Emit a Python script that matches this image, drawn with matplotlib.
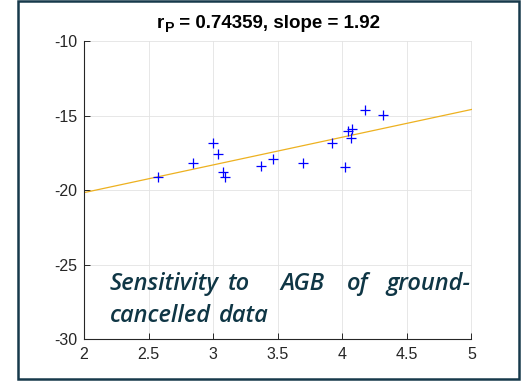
import matplotlib
matplotlib.use("Agg")
import matplotlib.pyplot as plt
import numpy as np
from matplotlib.patches import Rectangle

# ---- data ----
agb_sens_x = [2.572, 2.846, 3.001, 3.039, 3.076, 3.091, 3.370, 3.461, 3.693,
              3.922, 4.021, 4.046, 4.064, 4.072, 4.175, 4.317]
agb_sens_y = [-19.12, -18.16, -16.86, -17.58, -18.80, -19.10, -18.38, -17.87, -18.16,
              -16.86, -18.45, -16.03, -16.52, -15.90, -14.62, -14.95]
fit_slope = 1.863
fit_intercept = -23.89
fit_x = [2.0, 5.0]
x_ticks = [2, 2.5, 3, 3.5, 4, 4.5, 5]
x_tick_labels = ["2", "2.5", "3", "3.5", "4", "4.5", "5"]
y_ticks = [-30, -25, -20, -15, -10]
y_tick_labels = ["-30", "-25", "-20", "-15", "-10"]
title_main = "r"
title_sub = "P"
title_rest = " = 0.74359, slope = 1.92"
note_line1 = ["Sensitivity", "to", "AGB", "of", "ground-"]
note_line2 = ["cancelled", "data"]

plt.rcParams["font.family"] = ["Liberation Sans", "DejaVu Sans"]
plt.rcParams["axes.unicode_minus"] = False

W, H = 528, 382
fig = plt.figure(figsize=(W / 100, H / 100), dpi=100)
fig.patch.set_facecolor("white")

left_px, right_px, top_px, bot_px = 84, 471.5, 41.4, 339
ax = fig.add_axes([left_px / W, 1 - bot_px / H, (right_px - left_px) / W, (bot_px - top_px) / H])

ax.set_xlim(2, 5)
ax.set_ylim(-30, -10)
ax.grid(True, color="#e3e3e3", linewidth=0.6)
ax.set_axisbelow(True)

fx = np.array(fit_x)
ax.plot(fx, fit_slope * fx + fit_intercept, color="#EDB120", linewidth=0.9, zorder=2)
ax.plot(agb_sens_x, agb_sens_y, linestyle="none", marker="+", color="#0000FF",
        markersize=6.5, markeredgewidth=0.9, zorder=3)

for s in ["top", "right"]:
    ax.spines[s].set_visible(False)
for s in ["left", "bottom"]:
    ax.spines[s].set_color("#262626")
    ax.spines[s].set_linewidth(0.8)

ax.set_xticks(x_ticks)
ax.set_xticklabels(x_tick_labels)
ax.set_yticks(y_ticks)
ax.set_yticklabels(y_tick_labels)
ax.tick_params(direction="in", length=4, width=0.7, color="#262626",
               labelsize=11.5, labelcolor="#262626")
ax.tick_params(axis="x", pad=6)
ax.tick_params(axis="y", pad=5)

# title built from pieces so the subscript can be sized like the reference
tfs = 13.5
base_y = 1 - 27.5 / H
t1 = fig.text(157 / W, base_y, title_main, fontsize=tfs, fontweight="bold", ha="left", va="baseline")
fig.canvas.draw()
r = fig.canvas.get_renderer()
bb = t1.get_window_extent(r)
t2 = fig.text((bb.x1 + 0.5) / W, base_y - 5 / H, title_sub, fontsize=tfs * 0.75, fontweight="bold",
              ha="left", va="baseline")
bb2 = t2.get_window_extent(r)
fig.text((bb2.x1) / W, base_y, title_rest, fontsize=tfs, fontweight="bold", ha="left", va="baseline")

# border
fig.patches.append(Rectangle((18 / W, 1 - 379 / H), (519 - 18) / W, (379 - 1) / H,
                             transform=fig.transFigure, fill=False,
                             edgecolor="#17394B", linewidth=1.8))

# justified note text
note_color = "#0F3645"
fp = dict(family=["Open Sans", "DejaVu Sans"], style="italic", fontweight="semibold",
          fontsize=17, color=note_color)
line1_x = [110, 228, 280, 346.7, 386]
line2_x = [110, 219]
for w, xp in zip(note_line1, line1_x):
    fig.text(xp / W, 1 - 290.3 / H, w, ha="left", va="baseline", **fp)
for w, xp in zip(note_line2, line2_x):
    fig.text(xp / W, 1 - 322 / H, w, ha="left", va="baseline", **fp)

fig.savefig("out.png", dpi=100)
